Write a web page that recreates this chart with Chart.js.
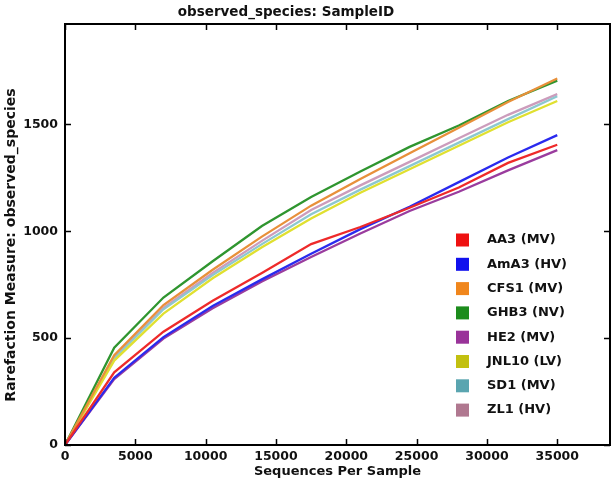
<!DOCTYPE html>
<html>
<head>
<meta charset="utf-8">
<script src="https://cdn.jsdelivr.net/npm/chart.js@4.4.0/dist/chart.umd.min.js"></script>
<style>
  html, body { margin: 0; padding: 0; background: #fff; }
</style>
</head>
<body>
<canvas id="rarefaction" width="615" height="486"></canvas>
<script>
// sequences per sample (rarefaction depths)
const depths = [0, 3500, 7000, 10500, 14000, 17500, 21000, 24500, 28000, 31500, 35000];

const sampleLabels = ['AA3 (MV)', 'AmA3 (HV)', 'CFS1 (MV)', 'GHB3 (NV)', 'HE2 (MV)', 'JNL10 (LV)', 'SD1 (MV)', 'ZL1 (HV)'];

// observed species per depth
const aa3   = [0, 340, 530, 675, 805, 940, 1020, 1110, 1205, 1320, 1405];
const ama3  = [0, 315, 505, 650, 775, 895, 1010, 1115, 1230, 1345, 1450];
const cfs1  = [0, 420, 655, 820, 975, 1120, 1245, 1365, 1485, 1605, 1715];
const ghb3  = [0, 455, 690, 860, 1025, 1160, 1280, 1395, 1495, 1610, 1705];
const he2   = [0, 308, 498, 640, 765, 880, 990, 1095, 1185, 1285, 1380];
const jnl10 = [0, 395, 615, 780, 925, 1060, 1180, 1290, 1400, 1510, 1610];
const sd1   = [0, 405, 635, 795, 940, 1080, 1195, 1305, 1415, 1525, 1632];
const zl1   = [0, 410, 642, 805, 955, 1100, 1215, 1325, 1435, 1545, 1642];

const seriesValues = [aa3, ama3, cfs1, ghb3, he2, jnl10, sd1, zl1];

const lineColors = ['#ee2a2a', '#2a2aee', '#e8903a', '#2f952f', '#9a3c9e', '#e0e030', '#8cc8d0', '#cc9cbc'];
const swatchColors = ['#ee1111', '#1111ee', '#f0861c', '#1c8c1c', '#993399', '#c2c010', '#5aa5b0', '#b07890'];

const xTicks = [0, 5000, 10000, 15000, 20000, 25000, 30000, 35000];
const yTicks = [0, 500, 1000, 1500];

const chartTitle = 'observed_species: SampleID';
const yTitle = 'Rarefaction Measure: observed_species';
const FONT = "'DejaVu Sans', sans-serif";

const frameAndLegend = {
  id: 'frameAndLegend',
  afterDatasetsDraw(chart) {
    const ctx = chart.ctx;
    const { left, right, top, bottom } = chart.chartArea;
    const xs = chart.scales.x;
    const ys = chart.scales.y;
    ctx.save();
    ctx.strokeStyle = '#000';
    ctx.lineWidth = 2;
    ctx.strokeRect(left, top, right - left, bottom - top);
    ctx.lineWidth = 1.5;
    ctx.beginPath();
    xTicks.forEach(v => {
      const px = Math.round(xs.getPixelForValue(v)) + 0.5;
      ctx.moveTo(px, bottom); ctx.lineTo(px, bottom - 6);
      ctx.moveTo(px, top); ctx.lineTo(px, top + 6);
    });
    yTicks.forEach(v => {
      const py = Math.round(ys.getPixelForValue(v)) + 0.5;
      ctx.moveTo(left, py); ctx.lineTo(left + 6, py);
      ctx.moveTo(right, py); ctx.lineTo(right - 6, py);
    });
    ctx.stroke();

    // title (sits a little left of the axes centre, as in the source)
    ctx.fillStyle = '#111';
    ctx.font = 'bold 13.5px ' + FONT;
    ctx.textAlign = 'center';
    ctx.textBaseline = 'middle';
    ctx.fillText(chartTitle, 286, 12);

    // y axis title, a bit below the axes centre
    ctx.save();
    ctx.translate(11, 245);
    ctx.rotate(-Math.PI / 2);
    ctx.font = 'bold 14px ' + FONT;
    ctx.fillText(yTitle, 0, 0);
    ctx.restore();

    // legend inside plot
    ctx.font = 'bold 13px ' + FONT;
    ctx.textAlign = 'left';
    chart.data.datasets.forEach((ds, i) => {
      const cy = 240 + i * 24.3;
      ctx.fillStyle = swatchColors[i];
      ctx.fillRect(456, cy - 6.5, 13, 13);
      ctx.fillStyle = '#111';
      ctx.fillText(ds.label, 487, cy);
    });
    ctx.restore();
  }
};

new Chart(document.getElementById('rarefaction').getContext('2d'), {
  type: 'line',
  data: {
    datasets: seriesValues.map((vals, i) => ({
      label: sampleLabels[i],
      data: depths.map((d, j) => ({ x: d, y: vals[j] })),
      borderColor: lineColors[i],
      borderWidth: 2.3,
      pointRadius: 0,
      tension: 0,
      fill: false
    }))
  },
  options: {
    responsive: false,
    animation: false,
    devicePixelRatio: 1,
    layout: { padding: { top: 24, right: 5, bottom: 0, left: 0 } },
    plugins: {
      legend: { display: false },
      tooltip: { enabled: false },
      title: { display: false }
    },
    scales: {
      x: {
        type: 'linear',
        min: 0,
        max: 38750,
        grid: { display: false, drawTicks: false },
        border: { display: false },
        afterFit: s => { s.height = 41; },
        afterBuildTicks: s => { s.ticks = xTicks.map(v => ({ value: v })); },
        ticks: {
          color: '#111',
          padding: 4,
          maxRotation: 0,
          font: { family: FONT, size: 12.5, weight: 'bold' },
          callback: v => String(v)
        },
        title: {
          display: true,
          text: 'Sequences Per Sample',
          color: '#111',
          font: { family: FONT, size: 13, weight: 'bold' },
          padding: { top: 0, bottom: 7 }
        }
      },
      y: {
        min: 0,
        max: 1970,
        grid: { display: false, drawTicks: false },
        border: { display: false },
        afterFit: s => { s.width = 65; },
        afterBuildTicks: s => { s.ticks = yTicks.map(v => ({ value: v })); },
        ticks: {
          color: '#111',
          padding: 7,
          font: { family: FONT, size: 12.5, weight: 'bold' },
          callback: v => String(v)
        }
      }
    }
  },
  plugins: [frameAndLegend]
});
</script>
</body>
</html>
